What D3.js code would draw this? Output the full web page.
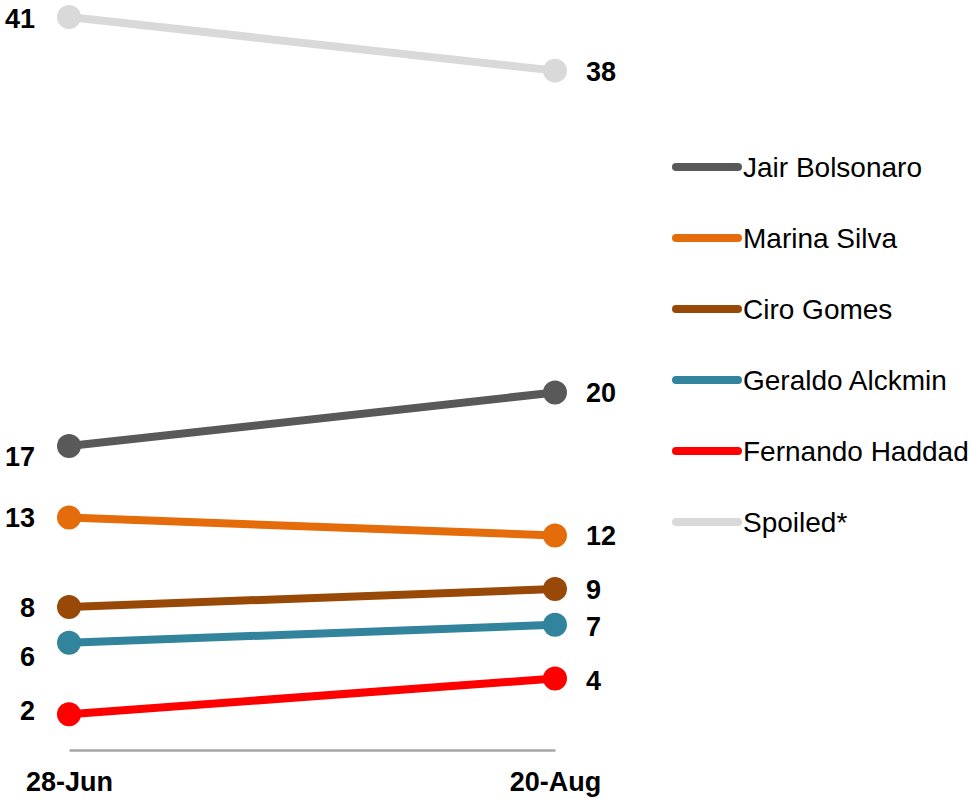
<!DOCTYPE html>
<html>
<head>
<meta charset="utf-8">
<script src="https://cdn.jsdelivr.net/npm/d3@7"></script>
<style>
  body { margin: 0; background: #fff; }
  text { font-family: "Liberation Sans", Arial, sans-serif; }
</style>
</head>
<body>
<svg id="chart" width="969" height="799"></svg>
<script>
// data
const dates = ["28-Jun", "20-Aug"];
const candidates = ["Jair Bolsonaro", "Marina Silva", "Ciro Gomes", "Geraldo Alckmin", "Fernando Haddad", "Spoiled*"];
const june = [17, 13, 8, 6, 2, 41];
const august = [20, 12, 9, 7, 4, 38];
const colors = ["#595959", "#e46c0a", "#984807", "#31849b", "#ff0000", "#d9d9d9"];

var svg = d3.select("#chart");

// scales
var x = d3.scalePoint().domain(dates).range([69, 555]);
var y = d3.scaleLinear().domain([0, 41]).range([750, 17]);

// axis at the bottom, no ticks
var xAxis = svg.append("g")
  .attr("transform", "translate(0," + y(0) + ")")
  .call(d3.axisBottom(x).tickSize(0).tickPadding(22));
xAxis.select(".domain")
  .attr("stroke", "#a6a6a6")
  .attr("stroke-width", 2.5);
xAxis.selectAll("text")
  .attr("fill", "#000")
  .style("font-size", "27px")
  .style("font-weight", "bold")
  .style("font-family", "'Liberation Sans', Arial, sans-serif");

var series = candidates.map(function (name, i) {
  return { name: name, color: colors[i], values: [june[i], august[i]] };
});

// small vertical nudges so left labels don't collide
const leftNudge = [10, 0, 0, 14, -4, 1];
const rightNudge = [0, 0, 0, 1, 2, 1];

var line = d3.line()
  .x(function (d, i) { return x(dates[i]); })
  .y(function (d) { return y(d); });

var g = svg.append("g");
var drawOrder = [5, 0, 1, 2, 3, 4];

drawOrder.forEach(function (i) {
  var s = series[i];
  g.append("path")
    .datum(s.values)
    .attr("d", line)
    .attr("fill", "none")
    .attr("stroke", s.color)
    .attr("stroke-width", 8);

  g.selectAll(null)
    .data(s.values)
    .enter()
    .append("circle")
    .attr("cx", function (d, j) { return x(dates[j]); })
    .attr("cy", function (d) { return y(d); })
    .attr("r", 12)
    .attr("fill", s.color);

  // value labels
  g.append("text")
    .attr("x", x(dates[0]) - 34)
    .attr("y", y(s.values[0]) + leftNudge[i])
    .attr("dy", "0.36em")
    .attr("text-anchor", "end")
    .style("font-size", "27px")
    .style("font-weight", "bold")
    .text(s.values[0]);

  g.append("text")
    .attr("x", x(dates[1]) + 31)
    .attr("y", y(s.values[1]) + rightNudge[i])
    .attr("dy", "0.36em")
    .attr("text-anchor", "start")
    .style("font-size", "27px")
    .style("font-weight", "bold")
    .text(s.values[1]);
});

// legend
var legend = svg.append("g").attr("transform", "translate(676,167)");
var rows = legend.selectAll("g")
  .data(series)
  .enter()
  .append("g")
  .attr("transform", function (d, i) { return "translate(0," + (i * 71) + ")"; });

rows.append("line")
  .attr("x1", 0)
  .attr("x2", 62)
  .attr("stroke", function (d) { return d.color; })
  .attr("stroke-width", 8)
  .attr("stroke-linecap", "round");

rows.append("text")
  .attr("x", 67)
  .attr("dy", "0.36em")
  .style("font-size", "28px")
  .attr("fill", "#000")
  .text(function (d) { return d.name; });
</script>
</body>
</html>
